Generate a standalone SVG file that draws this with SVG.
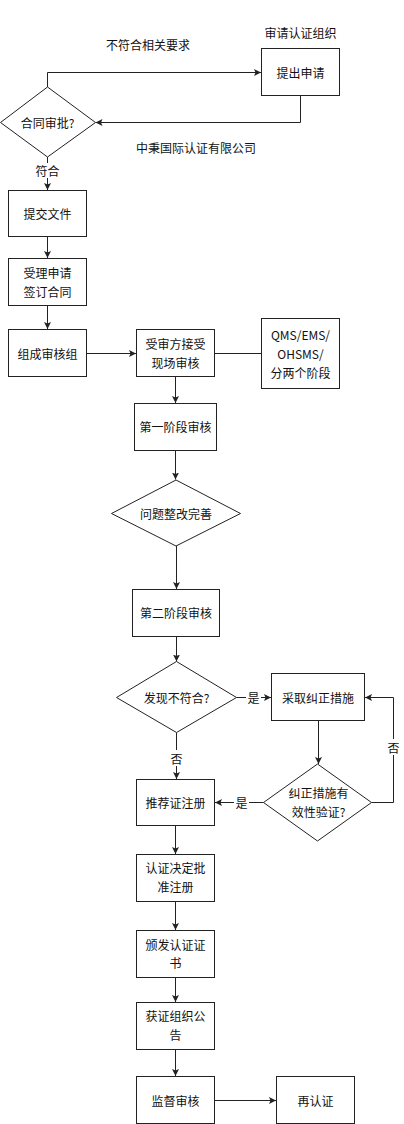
<svg xmlns="http://www.w3.org/2000/svg" width="404" height="1124" viewBox="0 0 404 1124">
<style>
.n{fill:#fff;stroke:#222;stroke-width:1}
.t{font-family:"Noto Sans CJK SC","Noto Sans",sans-serif;font-size:12px;fill:#111;text-anchor:middle;dominant-baseline:central}
.e{fill:none;stroke:#222;stroke-width:1}
.bg{fill:#fff}
</style>
<defs>
<marker id="a" markerUnits="userSpaceOnUse" markerWidth="8" markerHeight="8" refX="7" refY="3.5" orient="auto">
<path d="M0,0 L7,3.5 L0,7 L1.5,3.5 z" fill="#222"/>
</marker>
</defs>
<rect width="404" height="1124" fill="#fff"/>
<g id="connectors">
<path class="e" d="M47.5,87 V72.5 H261" marker-end="url(#a)"/>
<path class="e" d="M300.5,95.5 V122.5 H95.5" marker-end="url(#a)"/>
<path class="e" d="M47.5,157 V190" marker-end="url(#a)"/>
<path class="e" d="M47.5,236.5 V258" marker-end="url(#a)"/>
<path class="e" d="M47.5,305.5 V329" marker-end="url(#a)"/>
<path class="e" d="M86.5,353.5 H136" marker-end="url(#a)"/>
<path class="e" d="M214.5,353.5 H261"/>
<path class="e" d="M175.5,376.5 V403" marker-end="url(#a)"/>
<path class="e" d="M175.5,450.5 V479.5" marker-end="url(#a)"/>
<path class="e" d="M176.5,546 V589" marker-end="url(#a)"/>
<path class="e" d="M176.5,636.5 V661.5" marker-end="url(#a)"/>
<path class="e" d="M236.5,697.5 H271" marker-end="url(#a)"/>
<path class="e" d="M176.5,732.5 V779" marker-end="url(#a)"/>
<path class="e" d="M318.5,720.5 V764" marker-end="url(#a)"/>
<path class="e" d="M371.5,802.5 H393.5 V697.5 H365" marker-end="url(#a)"/>
<path class="e" d="M263.5,802.5 H215" marker-end="url(#a)"/>
<path class="e" d="M175.5,825.5 V854" marker-end="url(#a)"/>
<path class="e" d="M175.5,901.5 V930" marker-end="url(#a)"/>
<path class="e" d="M175.5,977.5 V1002" marker-end="url(#a)"/>
<path class="e" d="M175.5,1049.5 V1076" marker-end="url(#a)"/>
<path class="e" d="M214.5,1100.5 H276" marker-end="url(#a)"/>
<rect class="bg" x="34" y="163" width="27" height="15"/>
<text class="t" x="47.5" y="170.5">符合</text>
<rect class="bg" x="246" y="690" width="15" height="15"/>
<text class="t" x="253.5" y="697">是</text>
<rect class="bg" x="169" y="750" width="15" height="16"/>
<text class="t" x="176.5" y="758">否</text>
<rect class="bg" x="386" y="739" width="15" height="16"/>
<text class="t" x="393.5" y="747">否</text>
<rect class="bg" x="234" y="795" width="15" height="15"/>
<text class="t" x="241.5" y="802">是</text>
<text class="t" x="148" y="44">不符合相关要求</text>
<text class="t" x="196" y="147">中秉国际认证有限公司</text>
</g>
<g id="n-org"><text class="t" x="300.5" y="32">审请认证组织</text></g>
<g id="n-apply"><rect class="n" x="261.5" y="48.5" width="78" height="47"/><text class="t" x="300.5" y="72">提出申请</text></g>
<g id="n-approve"><polygon class="n" points="47.5,87 95.5,122.5 47.5,157 0.5,122.5"/><text class="t" x="47.5" y="122">合同审批?</text></g>
<g id="n-submit"><rect class="n" x="8.5" y="190.5" width="78" height="46"/><text class="t" x="47.5" y="213.5">提交文件</text></g>
<g id="n-accept"><rect class="n" x="8.5" y="258.5" width="78" height="47"/><text class="t" x="47.5" y="272.5">受理申请</text><text class="t" x="47.5" y="291.5">签订合同</text></g>
<g id="n-team"><rect class="n" x="8.5" y="329.5" width="78" height="47"/><text class="t" x="47.5" y="353">组成审核组</text></g>
<g id="n-onsite"><rect class="n" x="136.5" y="329.5" width="78" height="47"/><text class="t" x="175.5" y="343.5">受审方接受</text><text class="t" x="175.5" y="362.5">现场审核</text></g>
<g id="n-qms"><rect class="n" x="261.5" y="318.5" width="78" height="70"/><text class="t" x="300.5" y="334.5">QMS/EMS/</text><text class="t" x="300.5" y="353.5">OHSMS/</text><text class="t" x="300.5" y="372">分两个阶段</text></g>
<g id="n-stage1"><rect class="n" x="134.5" y="403.5" width="82" height="47"/><text class="t" x="175.5" y="426.5">第一阶段审核</text></g>
<g id="n-fix"><polygon class="n" points="176,480 240.5,513.5 176,546 111.5,513.5"/><text class="t" x="176" y="513">问题整改完善</text></g>
<g id="n-stage2"><rect class="n" x="132.5" y="589.5" width="87" height="47"/><text class="t" x="176" y="612.5">第二阶段审核</text></g>
<g id="n-found"><polygon class="n" points="176.5,661.5 236.5,697.5 176.5,732.5 116.5,697.5"/><text class="t" x="176.5" y="697">发现不符合?</text></g>
<g id="n-correct"><rect class="n" x="271.5" y="673.5" width="93" height="47"/><text class="t" x="318" y="697">采取纠正措施</text></g>
<g id="n-verify"><polygon class="n" points="317.5,764 371.5,802.5 317.5,841 263.5,802.5"/><text class="t" x="318.5" y="792">纠正措施有</text><text class="t" x="318.5" y="811">效性验证?</text></g>
<g id="n-recommend"><rect class="n" x="136.5" y="779.5" width="78" height="46"/><text class="t" x="175.5" y="802">推荐证注册</text></g>
<g id="n-decide"><rect class="n" x="136.5" y="854.5" width="78" height="47"/><text class="t" x="175.5" y="867.5">认证决定批</text><text class="t" x="175.5" y="886">准注册</text></g>
<g id="n-cert"><rect class="n" x="136.5" y="930.5" width="78" height="47"/><text class="t" x="175.5" y="944">颁发认证证</text><text class="t" x="175.5" y="962.5">书</text></g>
<g id="n-announce"><rect class="n" x="136.5" y="1002.5" width="78" height="47"/><text class="t" x="175.5" y="1015.5">获证组织公</text><text class="t" x="175.5" y="1034.5">告</text></g>
<g id="n-supervise"><rect class="n" x="136.5" y="1076.5" width="78" height="47"/><text class="t" x="175.5" y="1100">监督审核</text></g>
<g id="n-recert"><rect class="n" x="276.5" y="1076.5" width="78" height="47"/><text class="t" x="315.5" y="1100">再认证</text></g>
</svg>
